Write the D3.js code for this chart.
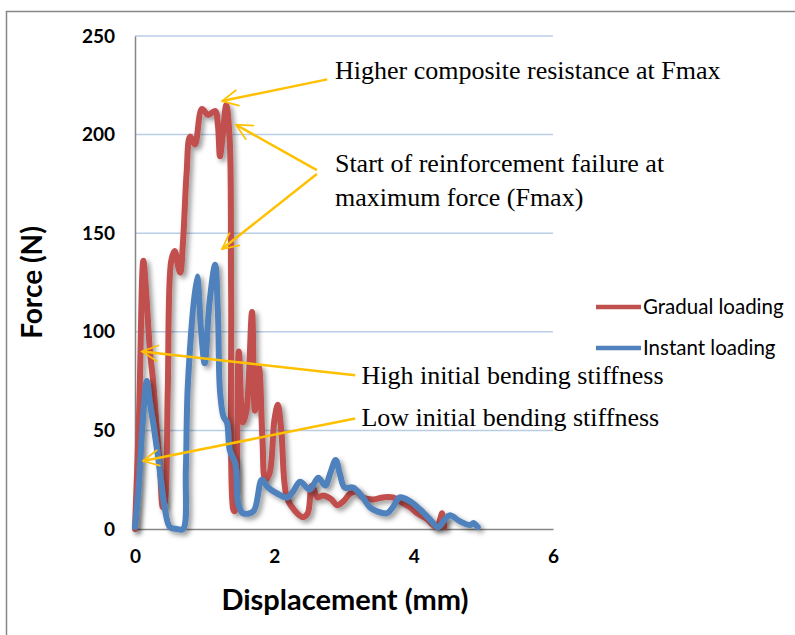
<!DOCTYPE html>
<html lang="en">
<head>
  <meta charset="UTF-8">
  <title>Force vs displacement</title>
  <style>
    body { margin: 0; background: #fff; }
    svg { display: block; }
  </style>
</head>
<body>
  <svg id="chart" width="795" height="635"></svg>
  <script src="https://cdn.jsdelivr.net/npm/d3@7"></script>
  <script>
    // readings taken off the original figure (mm, N)
    var gradualX = [0, 0.06, 0.12, 0.16, 0.215, 0.26, 0.31, 0.36, 0.40, 0.43, 0.47, 0.52, 0.57, 0.62, 0.65, 0.69, 0.74, 0.79, 0.86, 0.96, 1.05, 1.15, 1.19, 1.22, 1.26, 1.31, 1.36, 1.38, 1.41, 1.43,
      1.49, 1.55, 1.60, 1.68, 1.72, 1.78, 1.83, 1.87, 1.93, 2.00, 2.05, 2.10, 2.18, 2.30, 2.41, 2.48, 2.54, 2.62, 2.70, 2.82, 2.90, 2.99, 3.09, 3.18, 3.27, 3.42, 3.56, 3.70, 3.85, 3.95, 4.05, 4.19, 4.33, 4.41, 4.44];
    var gradualY = [0, 60, 136, 120, 90, 75, 52, 30, 11, 14, 70, 136, 141, 133, 130, 146, 180, 199, 195, 213, 210, 212, 205, 189, 200, 215, 197, 120, 10, 9,
      90, 54, 60, 110, 60, 82, 45, 25, 28, 55, 63, 50, 16, 9, 6, 8, 22, 16, 17, 15, 12, 14, 18, 19, 16, 15, 16, 16, 13, 11, 8, 5, 1, 8, 1];

    var instantX = [0, 0.05, 0.11, 0.17, 0.21, 0.26, 0.33, 0.43, 0.50, 0.60, 0.69, 0.73, 0.76, 0.89, 0.95, 1.00, 1.07, 1.15, 1.19, 1.22, 1.27, 1.32, 1.36, 1.44, 1.48, 1.55, 1.70, 1.82, 1.91, 2.04, 2.18, 2.27, 2.37, 2.51, 2.63, 2.73, 2.80, 2.88, 2.94, 3.01, 3.13, 3.27, 3.37, 3.47, 3.62, 3.70, 3.80, 3.95, 4.09, 4.23, 4.35, 4.45, 4.52, 4.66, 4.81, 4.86, 4.92];
    var instantY = [1, 20, 54, 75, 65, 54, 37, 10, 1, 0, 0, 30, 74, 128, 100, 84, 115, 134, 110, 70, 57, 54, 40, 33, 13, 8, 9, 25, 21, 18, 16, 19, 24, 20, 26, 22, 28, 35, 28, 21, 21, 16, 11, 9, 8, 11, 16, 14, 10, 5, 1, 5, 7, 4, 2, 3, 1];

    var xTicks = [0, 2, 4, 6];
    var yTicks = [0, 50, 100, 150, 200, 250];
    var seriesNames = ['Gradual loading', 'Instant loading'];
    var seriesColors = ['#c0504d', '#4f81bd'];

    // annotation arrows: [fromX, fromY, toX, toY] in data units
    var arrows = [
      [2.76, 228, 1.25, 217],
      [2.61, 182, 1.45, 205],
      [2.61, 180, 1.25, 142],
      [3.16, 78, 0.10, 90],
      [3.16, 56, 0.115, 34.5]
    ];
    var notes = [
      { text: 'Higher composite resistance at Fmax', x: 2.87, y: 228 },
      { text: 'Start of reinforcement failure at', x: 2.87, y: 181 },
      { text: 'maximum force (Fmax)', x: 2.87, y: 164 },
      { text: 'High initial bending stiffness', x: 3.25, y: 73.5 },
      { text: 'Low initial bending stiffness', x: 3.25, y: 52 }
    ];

    var svg = d3.select('#chart');
    var plotLeft = 135, plotRight = 553, plotTop = 36, plotBottom = 529;

    var x = d3.scaleLinear().domain([0, 6]).range([plotLeft, plotRight]);
    var y = d3.scaleLinear().domain([0, 250]).range([plotBottom, plotTop]);

    // outer frame of the chart area (cut off on right and bottom)
    svg.append('rect')
      .attr('x', 6.5).attr('y', 11.5)
      .attr('width', 820).attr('height', 660)
      .attr('fill', 'none')
      .attr('stroke', '#878787')
      .attr('stroke-width', 1.5);

    var defs = svg.append('defs');
    var shadow = defs.append('filter').attr('id', 'shadow')
      .attr('x', '-10%').attr('y', '-10%').attr('width', '130%').attr('height', '130%');
    shadow.append('feDropShadow')
      .attr('dx', 3).attr('dy', 3)
      .attr('stdDeviation', 2.5)
      .attr('flood-color', '#000')
      .attr('flood-opacity', 0.4);

    defs.append('marker')
      .attr('id', 'head')
      .attr('viewBox', '0 0 12 12')
      .attr('refX', 11).attr('refY', 6)
      .attr('markerWidth', 7.5).attr('markerHeight', 7.5)
      .attr('markerUnits', 'strokeWidth')
      .attr('orient', 'auto')
      .append('path')
      .attr('d', 'M1,1 L11,6 L1,11')
      .attr('fill', 'none')
      .attr('stroke', '#ffc000')
      .attr('stroke-width', 1.1)
      .attr('stroke-linecap', 'round');

    // gridlines
    svg.append('g')
      .selectAll('line')
      .data(yTicks.filter(function(d) { return d > 0; }))
      .enter().append('line')
      .attr('x1', plotLeft).attr('x2', plotRight)
      .attr('y1', function(d) { return y(d); })
      .attr('y2', function(d) { return y(d); })
      .attr('stroke', '#b9cde5')
      .attr('stroke-width', 1.5);

    // axes
    var yAxis = svg.append('g')
      .attr('transform', 'translate(' + plotLeft + ',0)')
      .call(d3.axisLeft(y).tickValues(yTicks).tickFormat(d3.format('d')).tickSize(0).tickPadding(20));
    var xAxis = svg.append('g')
      .attr('transform', 'translate(0,' + plotBottom + ')')
      .call(d3.axisBottom(x).tickValues(xTicks).tickFormat(d3.format('d')).tickSize(0).tickPadding(21));
    [xAxis, yAxis].forEach(function(g) {
      g.select('.domain').attr('stroke', '#868686').attr('stroke-width', 1.5);
      g.selectAll('text')
        .attr('font-family', 'Lato, sans-serif')
        .attr('font-weight', 'bold')
        .attr('font-size', 19)
        .attr('fill', '#000');
    });

    svg.append('text')
      .attr('transform', 'translate(42,' + ((plotTop + plotBottom) / 2) + ') rotate(-90)')
      .attr('text-anchor', 'middle')
      .attr('font-family', 'Lato, sans-serif')
      .attr('font-weight', 'bold')
      .attr('font-size', 28)
      .text('Force (N)');

    svg.append('text')
      .attr('x', 345)
      .attr('y', 610)
      .attr('text-anchor', 'middle')
      .attr('font-family', 'Lato, sans-serif')
      .attr('font-weight', 'bold')
      .attr('font-size', 29)
      .text('Displacement (mm)');

    // series
    var line = d3.line()
      .x(function(d) { return x(d[0]); })
      .y(function(d) { return y(d[1]); })
      .curve(d3.curveCatmullRom.alpha(0.5));

    var series = [
      d3.zip(gradualX, gradualY),
      d3.zip(instantX, instantY)
    ];

    svg.append('g')
      .selectAll('path')
      .data(series)
      .enter().append('path')
      .attr('d', line)
      .attr('fill', 'none')
      .attr('stroke', function(d, i) { return seriesColors[i]; })
      .attr('stroke-width', 6)
      .attr('stroke-linejoin', 'round')
      .attr('stroke-linecap', 'round')
      .attr('filter', 'url(#shadow)');

    // legend
    var legend = svg.append('g');
    seriesNames.forEach(function(name, i) {
      var ly = 307 + i * 41;
      legend.append('line')
        .attr('x1', 596).attr('x2', 641)
        .attr('y1', ly).attr('y2', ly)
        .attr('stroke', seriesColors[i])
        .attr('stroke-width', 4.5);
      legend.append('text')
        .attr('x', 643).attr('y', ly + 7)
        .attr('font-family', 'Lato, sans-serif')
        .attr('font-size', 20.5)
        .text(name);
    });

    // annotations
    svg.append('g')
      .selectAll('line')
      .data(arrows)
      .enter().append('line')
      .attr('x1', function(d) { return x(d[0]); })
      .attr('y1', function(d) { return y(d[1]); })
      .attr('x2', function(d) { return x(d[2]); })
      .attr('y2', function(d) { return y(d[3]); })
      .attr('stroke', '#ffc000')
      .attr('stroke-width', 2.5)
      .attr('marker-end', 'url(#head)');

    svg.append('g')
      .selectAll('text')
      .data(notes)
      .enter().append('text')
      .attr('x', function(d) { return x(d.x); })
      .attr('y', function(d) { return y(d.y); })
      .attr('font-family', '"Liberation Serif", "Times New Roman", serif')
      .attr('font-size', 26)
      .text(function(d) { return d.text; });
  </script>
</body>
</html>
